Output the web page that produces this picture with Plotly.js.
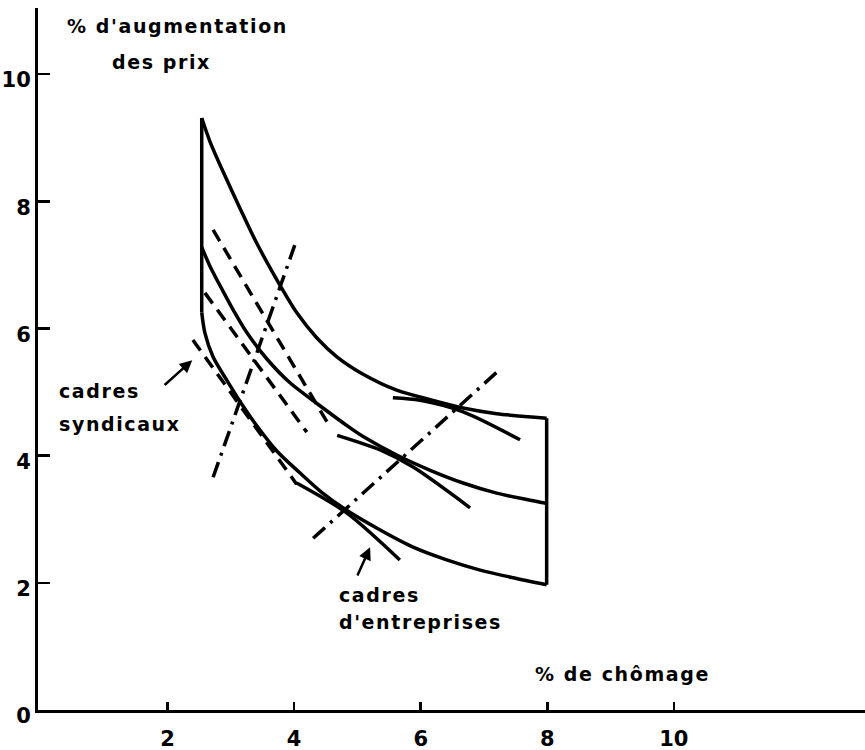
<!DOCTYPE html>
<html>
<head>
<meta charset="utf-8">
<script src="https://cdn.plot.ly/plotly-3.0.1.min.js"></script>
<style>
html,body{margin:0;padding:0;background:#fff;}
#chart{width:865px;height:750px;}
.annotation-text{letter-spacing:1.6px;}
</style>
</head>
<body>
<div id="chart"></div>
<script>
// Upper boundary curve
const upperX = [2.54, 2.67, 2.88, 3.14, 3.41, 3.80, 4.04, 4.36, 4.68, 5.09, 5.62, 6.15, 6.67, 7.20, 7.99];
const upperY = [9.31, 8.94, 8.46, 7.90, 7.34, 6.64, 6.25, 5.85, 5.55, 5.28, 5.03, 4.88, 4.75, 4.66, 4.59];
// Middle curve
const middleX = [2.54, 2.67, 2.88, 3.05, 3.25, 3.57, 3.93, 4.36, 4.88, 5.09, 5.62, 6.15, 6.67, 7.20, 7.73, 7.99];
const middleY = [7.28, 6.98, 6.58, 6.27, 5.94, 5.52, 5.15, 4.82, 4.44, 4.30, 4.01, 3.77, 3.57, 3.41, 3.30, 3.25];
// Lower boundary curve
const lowerX = [2.54, 2.59, 2.72, 2.94, 3.14, 3.41, 3.73, 4.09, 4.45, 4.83, 5.36, 5.88, 6.41, 6.94, 7.46, 7.99];
const lowerY = [6.25, 5.93, 5.55, 5.18, 4.86, 4.47, 4.07, 3.73, 3.41, 3.14, 2.83, 2.56, 2.36, 2.20, 2.08, 1.97];
// Left and right boundaries
const leftEdgeX = [2.54, 2.54];
const leftEdgeY = [9.31, 6.25];
const rightEdgeX = [7.99, 7.99];
const rightEdgeY = [4.59, 1.97];
// Dashed lines (cadres syndicaux)
const synd1X = [2.72, 4.52]; const synd1Y = [7.55, 4.53];
const synd2X = [2.59, 4.20]; const synd2Y = [6.56, 4.37];
const synd3X = [2.40, 4.04]; const synd3Y = [5.82, 3.55];
// Solid tangents (cadres d'entreprises)
const entr1X = [5.56, 5.99, 6.67, 7.57]; const entr1Y = [4.91, 4.87, 4.69, 4.25];
const entr2X = [4.68, 5.36, 5.88, 6.78]; const entr2Y = [4.32, 4.09, 3.82, 3.18];
const entr3X = [4.04, 4.83, 5.67]; const entr3Y = [3.57, 3.10, 2.36];
// Dash-dot lines
const dd1X = [2.72, 4.01]; const dd1Y = [3.66, 7.31];
const dd2X = [4.30, 7.20]; const dd2Y = [2.70, 5.31];
// Axis ticks
const xTicks = [2, 4, 6, 8, 10];
const xTickText = ['2', '4', '6', '8', '10'];
const yTicks = [0, 2, 4, 6, 8, 10];
const yTickText = ['0', '2', '4', '6', '8', '10'];

const solid = {color: '#000', width: 3.5};
const dashed = {color: '#000', width: 3.5, dash: '13px,8px'};
const dashdot = {color: '#000', width: 3.5, dash: '16px,7px,3px,7px'};
function tr(x, y, line) {
  return {x: x, y: y, mode: 'lines', line: Object.assign({shape: 'spline', smoothing: 0.8}, line), hoverinfo: 'skip', showlegend: false};
}
const data = [
  tr(upperX, upperY, solid),
  tr(middleX, middleY, solid),
  tr(lowerX, lowerY, solid),
  tr(leftEdgeX, leftEdgeY, solid),
  tr(rightEdgeX, rightEdgeY, solid),
  tr(synd1X, synd1Y, dashed),
  tr(synd2X, synd2Y, dashed),
  tr(synd3X, synd3Y, dashed),
  tr(entr1X, entr1Y, solid),
  tr(entr2X, entr2Y, solid),
  tr(entr3X, entr3Y, solid),
  tr(dd1X, dd1Y, dashdot),
  tr(dd2X, dd2Y, dashdot)
];

const font = {family: 'DejaVu Sans', size: 19, color: '#000', weight: 'bold'};
function label(text, x, y) {
  return {text: text, x: x, y: y, xref: 'x', yref: 'y', xanchor: 'left', yanchor: 'middle', showarrow: false, font: font};
}
const layout = {
  width: 865, height: 750,
  margin: {l: 38, r: 0, t: 8, b: 40},
  paper_bgcolor: '#fff', plot_bgcolor: '#fff',
  showlegend: false,
  xaxis: {
    range: [-0.047, 13.02], showgrid: false, zeroline: false,
    showline: true, linecolor: '#000', linewidth: 3,
    tickmode: 'array', tickvals: xTicks, ticktext: xTickText,
    ticks: 'inside', ticklen: 8, tickwidth: 2.5, tickcolor: '#000',
    ticklabelstandoff: 8,
    tickfont: {family: 'DejaVu Sans', size: 21, color: '#000', weight: 'bold'}
  },
  yaxis: {
    range: [0, 11.04], showgrid: false, zeroline: false,
    showline: true, linecolor: '#000', linewidth: 3,
    tickmode: 'array', tickvals: yTicks, ticktext: yTickText,
    ticks: 'inside', ticklen: 12, tickwidth: 2.5, tickcolor: '#000',
    ticklabelshift: 6, ticklabelstandoff: 0,
    tickfont: {family: 'DejaVu Sans', size: 21, color: '#000', weight: 'bold'}
  },
  annotations: [
    label("% d'augmentation", 0.38, 10.75),
    label('des prix', 1.09, 10.19),
    label('cadres', 0.25, 5.02),
    label('syndicaux', 0.25, 4.50),
    label('cadres', 4.68, 1.81),
    label("d'entreprises", 4.68, 1.38),
    label('% de chômage', 7.77, 0.57),
    {text: '', x: 2.39, y: 5.50, ax: 1.93, ay: 5.09, axref: 'x', ayref: 'y', xref: 'x', yref: 'y',
     showarrow: true, arrowhead: 2, arrowsize: 1, arrowwidth: 2.5, arrowcolor: '#000'},
    {text: '', x: 5.20, y: 2.56, ax: 4.99, ay: 2.09, axref: 'x', ayref: 'y', xref: 'x', yref: 'y',
     showarrow: true, arrowhead: 2, arrowsize: 1, arrowwidth: 2.5, arrowcolor: '#000'}
  ]
};
Plotly.newPlot('chart', data, layout, {staticPlot: true, displayModeBar: false});
</script>
</body>
</html>
